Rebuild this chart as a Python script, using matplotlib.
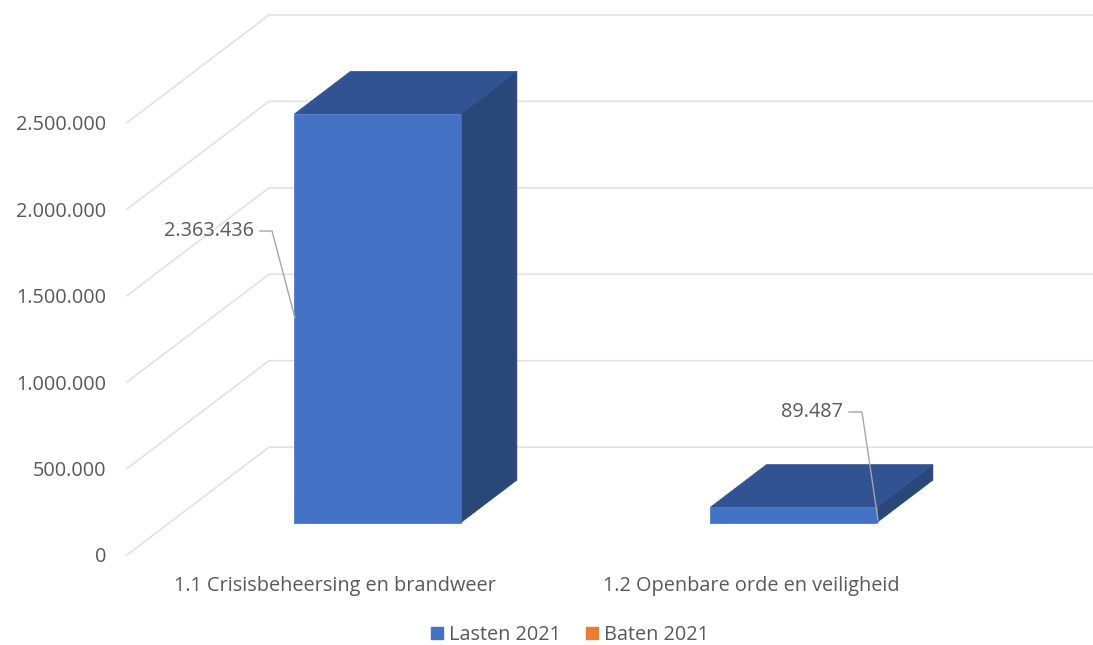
import matplotlib
matplotlib.use("Agg")
import matplotlib.pyplot as plt
from matplotlib.lines import Line2D
from matplotlib.patches import Patch, Polygon

# DATA
categories = ["1.1 Crisisbeheersing en brandweer", "1.2 Openbare orde en veiligheid"]
lasten_2021 = [2363436, 89487]
value_labels = ["2.363.436", "89.487"]
y_ticks = [0, 500000, 1000000, 1500000, 2000000, 2500000]
y_tick_labels = ["0", "500.000", "1.000.000", "1.500.000", "2.000.000", "2.500.000"]
series_names = ["Lasten 2021", "Baten 2021"]

# CONFIG
W, H = 1093, 645
FONT = "Open Sans"
FONT_SIZE = 14.3
TEXT_COLOR = "#595959"
GRID_COLOR = "#E2E2E2"
FRONT = "#4472C4"
TOP = "#315391"
SIDE = "#2A4779"
ORANGE = "#ED7D31"

# oblique projection: one full step of depth moves this far in data units
DEPTH_X = 142 / 416
DEPTH_Y = 623500
BAR_WIDTH = 0.40
BAR_START = 0.30     # depth where the bars start
BAR_DEPTH = 0.395

plt.rcParams["font.family"] = [FONT, "DejaVu Sans"]


def project(x, value, depth):
    return x + depth * DEPTH_X, value + depth * DEPTH_Y


def px(x, y):
    """Picture pixels (y down) to figure fraction."""
    return x / W, 1 - y / H


fig = plt.figure(figsize=(W / 100, H / 100), dpi=100, facecolor="white")
ax = fig.add_axes([127 / W, 1 - 555 / H, 832 / W, (555 - 122.7) / H])
ax.set_xlim(-0.5, 1.5)
ax.set_ylim(0, 2500000)
for spine in ax.spines.values():
    spine.set_visible(False)
ax.patch.set_visible(False)

ax.set_yticks(y_ticks, y_tick_labels)
ax.set_xticks(range(len(categories)), categories)
ax.tick_params(axis="both", length=0, labelcolor=TEXT_COLOR, labelsize=FONT_SIZE)
ax.tick_params(axis="y", pad=15)
ax.tick_params(axis="x", pad=15)

# gridlines: up the side wall, then along the back wall off the right edge
for tick in y_ticks:
    x0, y0 = project(-0.5, tick, 0)
    x1, y1 = project(-0.5, tick, 1)
    ax.plot([x0, x1, 2.0], [y0, y1, y1], color=GRID_COLOR, lw=1.2,
            clip_on=False, zorder=1, solid_joinstyle="miter")

# bars as three faces
for i, value in enumerate(lasten_2021):
    left = i - BAR_WIDTH / 2
    right = i + BAR_WIDTH / 2
    d0 = BAR_START
    d1 = BAR_START + BAR_DEPTH
    front = [project(left, 0, d0), project(right, 0, d0),
             project(right, value, d0), project(left, value, d0)]
    top = [project(left, value, d0), project(right, value, d0),
           project(right, value, d1), project(left, value, d1)]
    side = [project(right, 0, d0), project(right, 0, d1),
            project(right, value, d1), project(right, value, d0)]
    for pts, color in [(side, SIDE), (top, TOP), (front, FRONT)]:
        ax.add_patch(Polygon(pts, closed=True, facecolor=color, edgecolor=color,
                             lw=0.5, clip_on=False, zorder=3))

# data labels with leader lines (placed by hand, like the original)
label_pos = [(254, 231), (843, 412)]
leaders = [[(260, 231), (272, 231), (295, 318)],
           [(849, 412), (862, 412), (878, 520)]]
for text, (lx, ly), leader in zip(value_labels, label_pos, leaders):
    fx, fy = px(lx, ly)
    fig.text(fx, fy, text, color=TEXT_COLOR, fontsize=FONT_SIZE, ha="right", va="center")
    pts = [px(*p) for p in leader]
    fig.add_artist(Line2D([p[0] for p in pts], [p[1] for p in pts],
                          color="#A6A6A6", lw=1.0, transform=fig.transFigure, zorder=5))

handles = [Patch(color=FRONT), Patch(color=ORANGE)]
fig.legend(handles, series_names, loc="center", bbox_to_anchor=px(570, 635),
           ncol=2, frameon=False, fontsize=FONT_SIZE, labelcolor=TEXT_COLOR,
           handlelength=0.62, handleheight=0.62, handletextpad=0.3,
           columnspacing=1.25, borderpad=0)

fig.savefig("out.png", dpi=100)
